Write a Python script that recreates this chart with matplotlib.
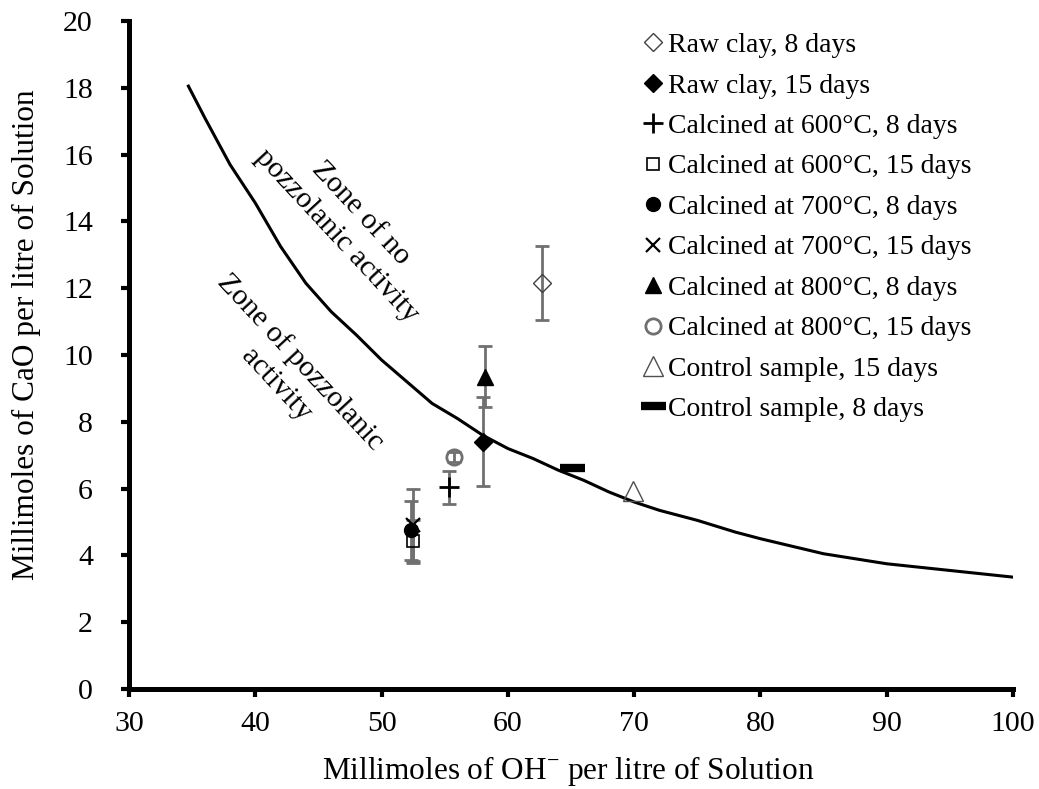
import numpy as np
import matplotlib
matplotlib.use("Agg")
import matplotlib.pyplot as plt

plt.rcParams['font.family'] = ['Liberation Serif', 'DejaVu Serif']
plt.rcParams['mathtext.fontset'] = 'custom'
plt.rcParams['mathtext.rm'] = 'Liberation Serif'

# boundary curve
curve_x = [34.7, 36, 38, 40, 42, 44, 46, 48, 50, 52, 54, 56, 58, 60, 62, 64,
           66, 68, 70, 72, 75, 78, 80, 85, 90, 95, 100]
curve_y = [18.05, 17.1, 15.7, 14.55, 13.25, 12.15, 11.3, 10.6, 9.85, 9.2, 8.55,
           8.1, 7.6, 7.2, 6.9, 6.55, 6.25, 5.9, 5.6, 5.35, 5.05, 4.7, 4.5,
           4.05, 3.75, 3.55, 3.35]

labels = ["Raw clay, 8 days", "Raw clay, 15 days",
          "Calcined at 600°C, 8 days", "Calcined at 600°C, 15 days",
          "Calcined at 700°C, 8 days", "Calcined at 700°C, 15 days",
          "Calcined at 800°C, 8 days", "Calcined at 800°C, 15 days",
          "Control sample, 15 days", "Control sample, 8 days"]
oh_vals = [62.7, 58.0, 55.3, 52.45, 52.3, 52.45, 58.2, 55.7, 69.9, 65.1]
cao_vals = [12.15, 7.4, 6.04, 4.42, 4.75, 4.9, 9.35, 6.96, 5.92, 6.63]
cao_err = [1.1, 1.33, 0.5, 0.65, 0.88, 1.08, 0.92, 0.15, 0.0, 0.0]

# marker styles: (marker, size, facecolor, edgecolor, edgewidth)
styles = [
    ('D', 9, 'none', '#404040', 1.0),
    ('D', 9, 'black', 'black', 1.0),
    ('+', 14, 'black', 'black', 2.0),
    ('s', 9, 'none', 'black', 1.2),
    ('o', 10, 'black', 'black', 1.0),
    ('x', 10, 'black', 'black', 1.6),
    ('^', 11, 'black', 'black', 1.0),
    ('o', 11, 'none', '#707070', 2.0),
    ('^', 14, 'none', '#505050', 1.0),
    ('_', 18, 'black', 'black', 6.0),
]

fig = plt.figure(figsize=(10.39, 7.89), dpi=100)
ax = fig.add_axes([0.1242, 0.1267, 0.8508, 0.8467])

ax.plot(curve_x, curve_y, color='black', lw=2.2, zorder=2)

# error bars first, then markers on top
for x, y, e in zip(oh_vals, cao_vals, cao_err):
    if e > 0:
        ax.errorbar(x, y, yerr=e, fmt='none', ecolor='#707070', elinewidth=2,
                    capsize=5, capthick=2, zorder=3)

for x, y, lab, (m, ms, fc, ec, mew) in zip(oh_vals, cao_vals, labels, styles):
    ax.plot([x], [y], linestyle='none', marker=m, markersize=ms,
            markerfacecolor=fc, markeredgecolor=ec, markeredgewidth=mew,
            label=lab, zorder=4)

ax.text(47.4, 13.9, "Zone of no\npozzolanic activity", rotation=-47,
        ha='center', va='center', multialignment='center', fontsize=21.5,
        rotation_mode='anchor', linespacing=1.35)
ax.text(42.6, 9.45, "Zone of pozzolanic\nactivity", rotation=-47,
        ha='center', va='center', multialignment='center', fontsize=21.5,
        rotation_mode='anchor', linespacing=1.35)

ax.set_xlim(30, 100)
ax.set_ylim(0, 20)
ax.set_xticks(np.arange(30, 101, 10))
ax.set_yticks(np.arange(0, 21, 2))
ax.tick_params(direction='out', length=6, width=3, labelsize=21.5)
ax.tick_params(axis='x', pad=10)
ax.tick_params(axis='y', pad=20)
for s in ['top', 'right']:
    ax.spines[s].set_visible(False)
for s in ['left', 'bottom']:
    ax.spines[s].set_linewidth(3.6)

ax.set_xlabel(r"Millimoles of OH$^{-}$ per litre of Solution", fontsize=22.5)
ax.set_ylabel("Millimoles of CaO per litre of Solution", fontsize=22.5)
ax.xaxis.set_label_coords(0.497, -0.097)
ax.yaxis.set_label_coords(-0.10, 0.53)

ax.legend(loc='upper left', bbox_to_anchor=(0.58, 0.9825), frameon=False,
          fontsize=20, handlelength=0.8, handletextpad=0.15, labelspacing=0.54,
          borderpad=0, borderaxespad=0)

fig.savefig("out.png", dpi=100)
